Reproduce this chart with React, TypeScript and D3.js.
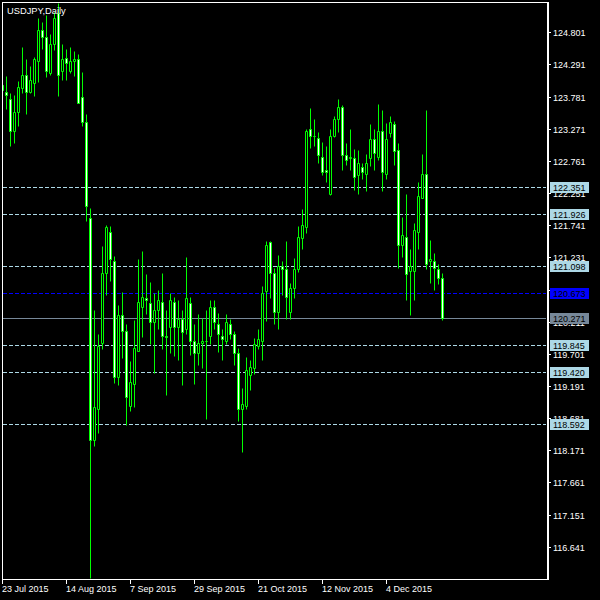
import React from 'react';
import * as d3 from 'd3';

const W = 600;
const H = 600;

// Daily USDJPY candles, 23 Jul 2015 .. 24 Dec 2015
const opens = [
  123.96, 123.86, 123.75, 123.23, 123.54, 123.91, 124.12, 123.86, 124.00, 124.35,
  124.84, 124.72, 124.15, 124.61, 125.10, 124.19, 124.40, 124.19, 124.34, 124.37,
  123.77, 123.38, 121.86, 118.34, 118.83, 119.87, 120.99, 121.64, 121.18, 119.33,
  120.32, 120.06, 118.88, 119.23, 119.75, 120.44, 120.59, 120.50, 120.20, 120.40,
  120.53, 119.98, 120.12, 120.52, 120.12, 120.25, 120.10, 120.50, 119.90, 119.72,
  119.87, 119.91, 119.99, 120.45, 120.18, 119.98, 119.91, 120.17, 120.02, 119.72,
  118.82, 118.87, 119.37, 119.48, 119.83, 119.91, 120.69, 121.47, 120.99, 120.37,
  121.09, 121.05, 120.37, 120.74, 121.04, 121.53, 121.72, 123.26, 123.16, 123.13,
  122.83, 122.61, 122.23, 123.15, 123.43, 123.62, 122.85, 122.80, 122.81, 122.53,
  122.66, 122.56, 122.81, 123.10, 122.83, 123.24, 122.56, 123.21, 123.35, 122.93,
  121.42, 121.56, 121.01, 121.01, 121.64, 122.18, 122.55, 121.17, 121.17, 121.05,
  120.91,
];
const highs = [
  123.99, 124.10, 123.83, 123.80, 124.02, 124.57, 124.37, 124.27, 124.41, 125.02,
  124.96, 125.07, 124.78, 125.12, 125.27, 124.62, 124.53, 124.57, 124.51, 124.46,
  124.17, 123.50, 122.02, 120.39, 120.01, 121.41, 121.74, 121.73, 121.26, 120.47,
  120.68, 120.18, 119.58, 120.23, 121.20, 121.33, 120.96, 120.84, 120.66, 120.72,
  120.99, 120.40, 120.66, 120.61, 120.55, 120.39, 121.23, 120.60, 120.17, 120.34,
  120.27, 120.40, 120.55, 120.56, 120.35, 120.10, 120.34, 120.26, 120.06, 119.80,
  119.16, 119.65, 119.61, 119.95, 120.09, 120.77, 121.49, 121.49, 121.07, 121.27,
  121.17, 121.49, 120.82, 121.22, 121.73, 122.00, 123.27, 123.60, 123.43, 123.22,
  123.06, 122.99, 123.27, 123.48, 123.75, 123.64, 123.05, 123.26, 122.95, 122.94,
  122.73, 122.87, 123.34, 123.27, 123.67, 123.56, 123.36, 123.48, 123.40, 123.05,
  121.87, 122.23, 121.36, 121.78, 122.43, 122.87, 123.56, 121.50, 121.30, 121.13,
  120.99,
];
const lows = [
  123.85, 123.58, 122.99, 123.05, 123.32, 123.84, 123.50, 123.84, 123.79, 124.01,
  124.53, 124.09, 124.13, 124.52, 123.79, 124.05, 124.04, 124.15, 124.10, 123.68,
  123.31, 121.80, 116.15, 118.24, 118.45, 119.77, 120.63, 120.86, 119.24, 119.20,
  119.64, 118.58, 118.79, 118.85, 119.74, 119.96, 120.34, 119.85, 119.39, 120.09,
  119.77, 119.05, 119.71, 119.67, 119.61, 119.21, 120.01, 119.69, 119.23, 119.53,
  119.47, 118.66, 119.86, 120.09, 119.73, 119.61, 119.85, 119.93, 119.53, 118.63,
  118.14, 118.82, 119.12, 119.38, 119.77, 119.60, 120.22, 120.59, 120.17, 120.09,
  120.64, 120.25, 120.25, 120.58, 121.00, 121.37, 121.61, 122.96, 123.00, 122.72,
  122.53, 122.42, 122.22, 123.14, 123.22, 122.61, 122.70, 122.62, 122.30, 122.24,
  122.48, 122.29, 122.68, 122.62, 122.78, 122.28, 122.47, 123.14, 122.70, 121.07,
  121.24, 120.56, 120.32, 120.56, 121.36, 122.18, 121.04, 120.83, 120.71, 120.81,
  120.23,
];
const closes = [
  123.88, 123.81, 123.23, 123.54, 123.94, 124.13, 123.86, 124.04, 124.37, 124.84,
  124.73, 124.19, 124.61, 125.03, 124.12, 124.38, 124.31, 124.35, 124.37, 123.68,
  123.37, 122.04, 118.34, 118.85, 119.83, 120.99, 121.72, 121.21, 119.34, 120.32,
  120.06, 119.02, 119.26, 119.80, 120.52, 120.61, 120.56, 120.20, 120.40, 120.56,
  119.98, 119.96, 120.55, 120.13, 120.26, 120.04, 120.58, 119.90, 119.72, 119.88,
  119.91, 119.90, 120.45, 120.20, 120.01, 119.93, 120.21, 120.02, 119.72, 118.83,
  118.90, 119.45, 119.50, 119.85, 119.93, 120.67, 121.43, 120.99, 120.37, 121.09,
  121.04, 120.61, 120.75, 121.05, 121.55, 121.74, 123.23, 123.16, 123.15, 122.85,
  122.59, 122.58, 123.16, 123.43, 123.62, 122.85, 122.77, 122.83, 122.51, 122.72,
  122.58, 122.72, 123.10, 122.88, 123.24, 122.59, 123.10, 123.37, 122.91, 121.42,
  121.58, 120.96, 121.10, 121.67, 122.20, 122.55, 121.13, 121.21, 121.07, 120.91,
  120.271,
];

const dateTickIndex = [0, 16, 32, 48, 64, 80, 96];
const dateTickLabels = [
  '23 Jul 2015', '14 Aug 2015', '7 Sep 2015', '29 Sep 2015',
  '21 Oct 2015', '12 Nov 2015', '4 Dec 2015',
];

const priceTicks = [
  124.801, 124.291, 123.781, 123.271, 122.761, 122.251, 121.741, 121.231,
  120.721, 120.211, 119.701, 119.191, 118.681, 118.171, 117.661, 117.151, 116.641,
];

// horizontal price levels
const levelPrices = [122.351, 121.926, 121.098, 119.845, 119.42, 118.592];
const markerPrice = 120.673;
const lastPrice = 120.271;

const FONT = '"Liberation Sans", Arial, sans-serif';
const GREEN = '#00ff00';
const LEVEL = '#add8e6';
const MARKER = '#0000ff';
const LASTC = '#778899';

const FRAME = { left: 2, top: 2, right: 547, bottom: 579 };

const snap = (v: number) => Math.floor(v) + 0.5;

export default function App() {
  const y = d3.scaleLinear().domain([116.154, 125.32]).range([578, 0]);
  const x = d3.scaleLinear().domain([0, 110]).range([2.5, 442.5]);

  const candles = opens.map((o, i) => {
    const c = closes[i];
    const cx = x(i);
    const yTop = snap(y(Math.max(o, c)));
    const yBot = snap(y(Math.min(o, c)));
    const bear = c < o;
    return (
      <g key={i}>
        <line x1={cx} x2={cx} y1={snap(y(highs[i]))} y2={snap(y(lows[i]))} stroke={GREEN} strokeWidth={1} />
        <path
          d={`M${cx - 1},${yTop}H${cx + 1}V${yBot}H${cx - 1}Z`}
          fill={bear ? '#ffffff' : '#000000'}
          stroke={GREEN}
          strokeWidth={1}
        />
      </g>
    );
  });

  const levelLine = (p: number, color: string, dash: string | undefined, key: string) => (
    <line
      key={key}
      x1={FRAME.left + 1}
      x2={FRAME.right - 1}
      y1={snap(y(p))}
      y2={snap(y(p))}
      stroke={color}
      strokeWidth={1}
      strokeDasharray={dash}
      shapeRendering="crispEdges"
    />
  );

  const levelBox = (p: number, bg: string, key: string) => {
    const cy = snap(y(p));
    return (
      <g key={key}>
        <rect x={550} y={cy - 5.5} width={39} height={11} fill={bg} />
        <text x={553} y={cy + 3.5} fill="#000000" fontSize={9} fontFamily={FONT}>
          {p.toFixed(3)}
        </text>
      </g>
    );
  };

  return (
    <svg width={W} height={H} style={{ display: 'block', position: 'absolute', left: 0, top: 0, background: '#000' }}>
      <rect x={0} y={0} width={W} height={H} fill="#000000" />
      <defs>
        <clipPath id="plot">
          <rect x={FRAME.left + 1} y={FRAME.top + 1} width={FRAME.right - FRAME.left - 1} height={FRAME.bottom - FRAME.top - 1} />
        </clipPath>
      </defs>

      <g clipPath="url(#plot)">
        {levelPrices.map((p, i) => levelLine(p, LEVEL, '4,2', `lv${i}`))}
        {levelLine(markerPrice, MARKER, '4,2', 'mk')}
        {levelLine(lastPrice, LASTC, undefined, 'last')}
        {candles}
      </g>

      {/* chart frame */}
      <rect
        x={FRAME.left + 0.5}
        y={FRAME.top + 0.5}
        width={FRAME.right - FRAME.left}
        height={FRAME.bottom - FRAME.top}
        fill="none"
        stroke="#ffffff"
        strokeWidth={1}
      />
      <line x1={FRAME.right + 1.5} x2={FRAME.right + 1.5} y1={FRAME.top} y2={FRAME.bottom + 1} stroke="#ffffff" strokeWidth={1} />

      <text x={7} y={13.5} fill="#ffffff" fontSize={9.3} fontFamily={FONT}>USDJPY,Daily</text>

      {/* price axis */}
      {priceTicks.map((p, i) => {
        const cy = snap(y(p));
        return (
          <g key={`pt${i}`}>
            <line x1={FRAME.right + 1} x2={FRAME.right + 4} y1={cy} y2={cy} stroke="#ffffff" strokeWidth={1} />
            <text x={553} y={cy + 3.5} fill="#ffffff" fontSize={9} fontFamily={FONT}>{p.toFixed(3)}</text>
          </g>
        );
      })}
      {levelPrices.map((p, i) => levelBox(p, LEVEL, `lb${i}`))}
      {levelBox(markerPrice, MARKER, 'mb')}
      {levelBox(lastPrice, LASTC, 'lb')}

      {/* time axis */}
      {dateTickIndex.map((idx, i) => {
        const tx = x(idx);
        return (
          <g key={`dt${i}`}>
            <line x1={tx} x2={tx} y1={FRAME.bottom + 1} y2={FRAME.bottom + 5} stroke="#ffffff" strokeWidth={1} />
            <text x={tx - 0.5} y={592} fill="#ffffff" fontSize={9} fontFamily={FONT}>{dateTickLabels[i]}</text>
          </g>
        );
      })}
    </svg>
  );
}
